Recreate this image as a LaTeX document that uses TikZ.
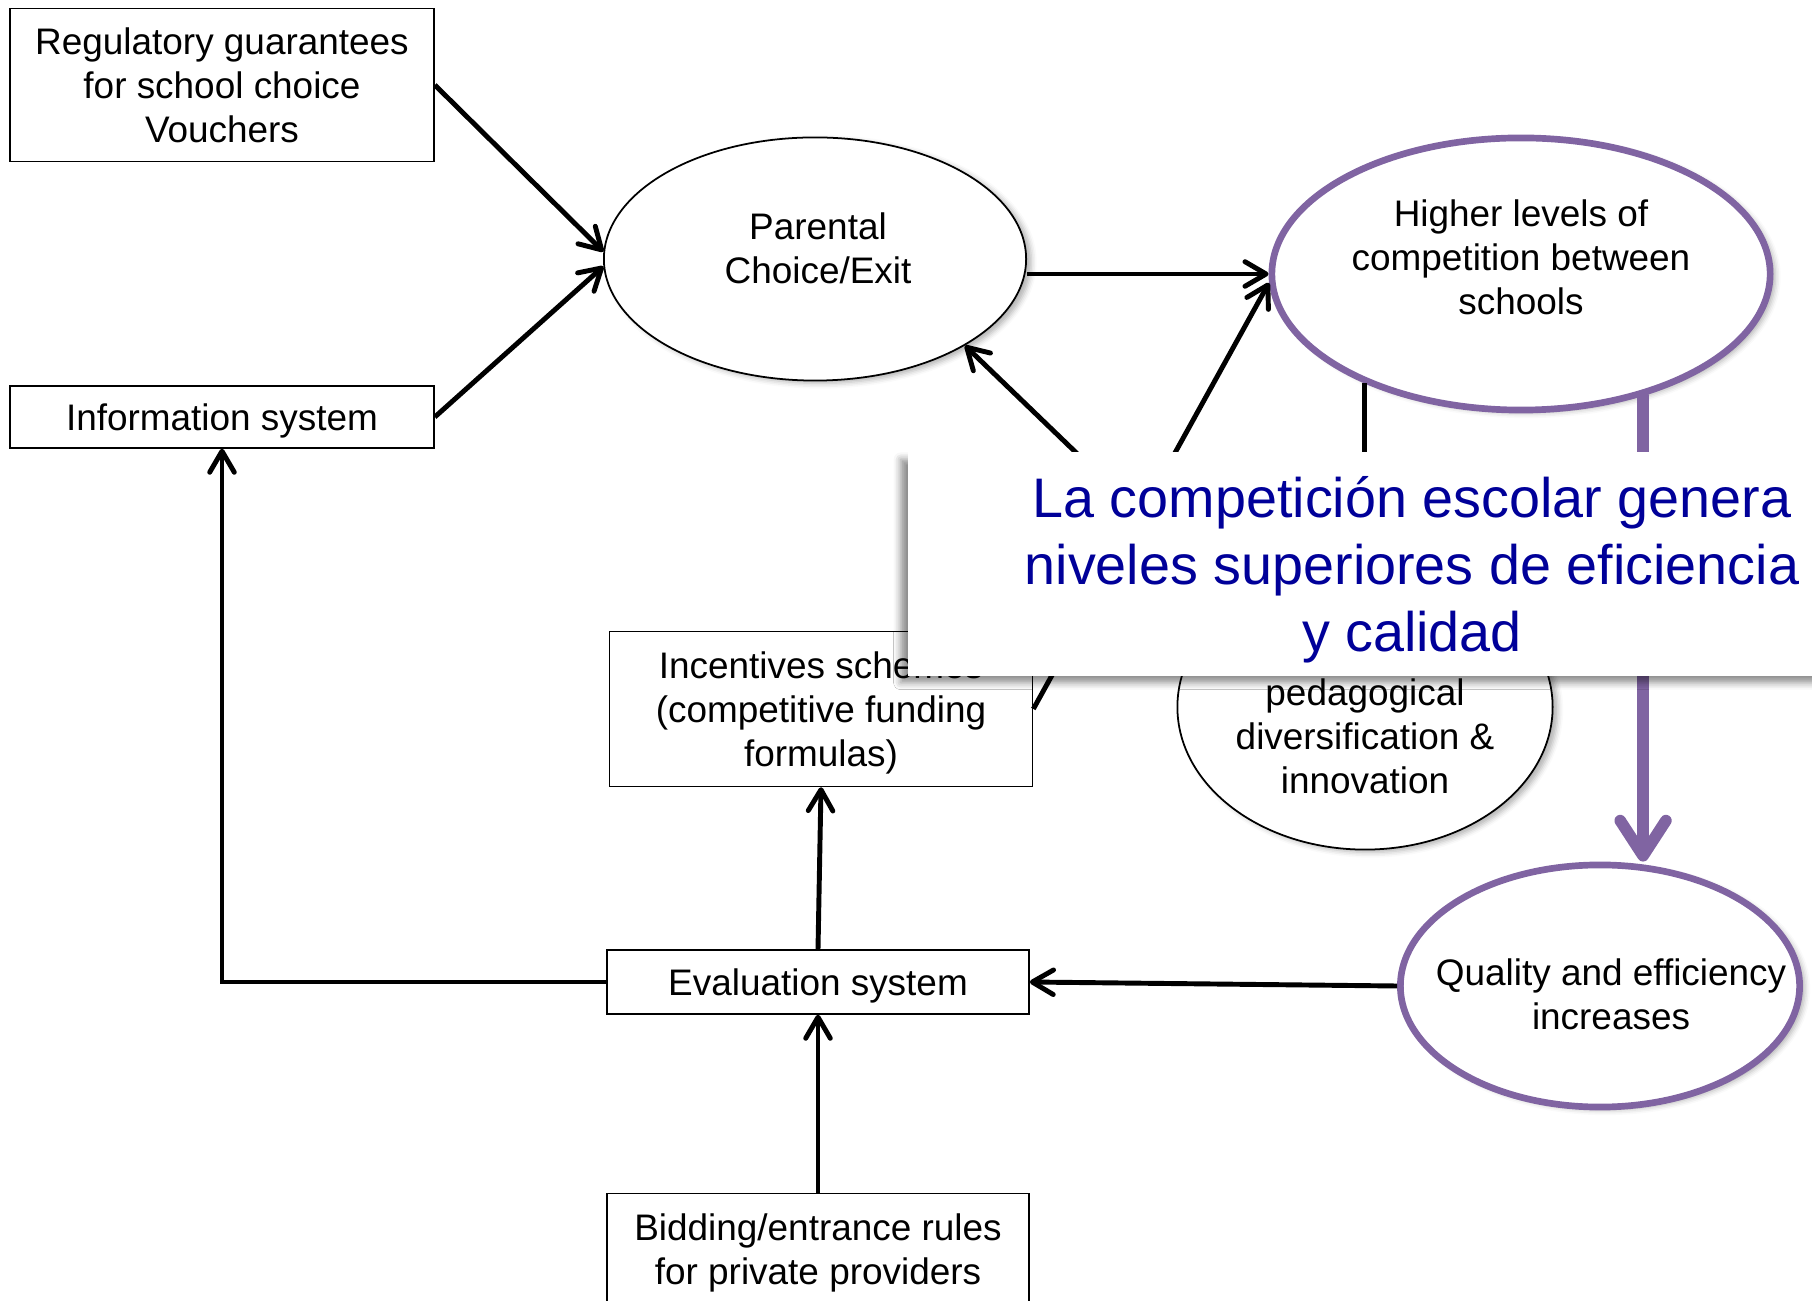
\documentclass[tikz,border=0pt]{standalone}
\usepackage{fontspec}
\setmainfont{Liberation Sans}
\usetikzlibrary{shapes.geometric, arrows.meta, shadows.blur}
\definecolor{hotpurple}{RGB}{128,100,162}
\definecolor{slidenavy}{RGB}{0,0,153}

\begin{document}
\begin{tikzpicture}[x=0.01cm, y=-0.01cm,
    box/.style={draw, line width=0.4pt, fill=white, align=center, inner sep=2pt, text depth=0pt, font=\fontsize{10.5}{12.5}\selectfont},
    oval/.style={draw, ellipse, line width=0.5pt, fill=white, inner sep=0pt, blur shadow={shadow xshift=1.5pt, shadow yshift=-0.8pt, shadow blur radius=1.5pt, shadow opacity=30}},
    hot/.style={oval, draw=hotpurple, line width=1.9pt},
    ovaltext/.style={align=center, inner sep=0pt, font=\fontsize{10.5}{12.5}\selectfont},
    conn/.style={line width=1.4pt, -{Straight Barb[length=6pt, width=7pt, round]}},
    bigarrow/.style={draw=hotpurple, line width=3.3pt, line cap=round, -{Straight Barb[length=10pt, width=13pt, round]}},
    banner/.style={fill=white, text=slidenavy, align=center, font=\fontsize{15.85}{19.1}\selectfont, text depth=0pt, minimum width=10.08cm, minimum height=2.23cm, blur shadow={shadow xshift=-2pt, shadow yshift=-2pt, shadow blur radius=2pt, shadow opacity=45}}
]
    \useasboundingbox (0,0) rectangle (1812,1301);

    % Policy instruments
    \node[box, minimum width=4.24cm, minimum height=1.53cm] (reg) at (222,85) {Regulatory guarantees\\for school choice\\Vouchers};
    \node[box, minimum width=4.24cm, minimum height=0.62cm] (info) at (222,417) {Information system};
    \node[box, minimum width=4.23cm, minimum height=1.55cm] (incent) at (821,709) {Incentives schemes\\(competitive funding\\formulas)};
    \node[box, minimum width=4.22cm, minimum height=0.64cm] (eval) at (818,982) {Evaluation system};
    \node[box, minimum width=4.22cm, minimum height=1.11cm] (bid) at (818,1249) {Bidding/entrance rules\\for private providers};

    % Effects
    \node[oval, minimum width=4.22cm, minimum height=2.43cm] (parent) at (815,259) {};
    \node[ovaltext] (parenttxt) at (818,248) {Parental\\Choice/Exit};
    \node[hot, minimum width=4.98cm, minimum height=2.72cm] (higher) at (1521,274) {};
    \node[ovaltext] (highertxt) at (1521,257) {Higher levels of\\competition between\\schools};
    \node[oval, minimum width=3.75cm, minimum height=2.85cm] (ped) at (1365,707) {};
    \node[ovaltext] (pedtxt) at (1365,736) {pedagogical\\diversification \&\\innovation};
    \node[hot, minimum width=3.99cm, minimum height=2.42cm] (quality) at (1600,986) {};
    \node[ovaltext] (qualitytxt) at (1611,994) {Quality and efficiency\\increases};

    % Connectors
    \draw[conn] (reg.east) -- (parent.178);
    \draw[conn] (info.east) -- (parent.182);
    \draw[conn] (parent.east |- higher.west) -- (higher.west);
    \draw[conn] (incent.east) -- (higher.182);
    \draw[conn] (ped.142) -- (parent.-30);
    \draw[conn] (higher.215) -- (higher.215 |- ped.north);
    \draw[bigarrow] (higher.-45) -- (higher.-45 |- quality.north);
    \draw[conn] (quality.west) -- (eval.east);
    \draw[conn] (eval.north) -- (incent.south);
    \draw[conn] (bid.north) -- (eval.south);
    \draw[conn] (eval.west) -| (info.south);

    % Overlay
    \node[banner] (claim) at (1412,564) {La competición escolar genera\\niveles superiores de eficiencia\\y calidad};
\end{tikzpicture}
\end{document}
